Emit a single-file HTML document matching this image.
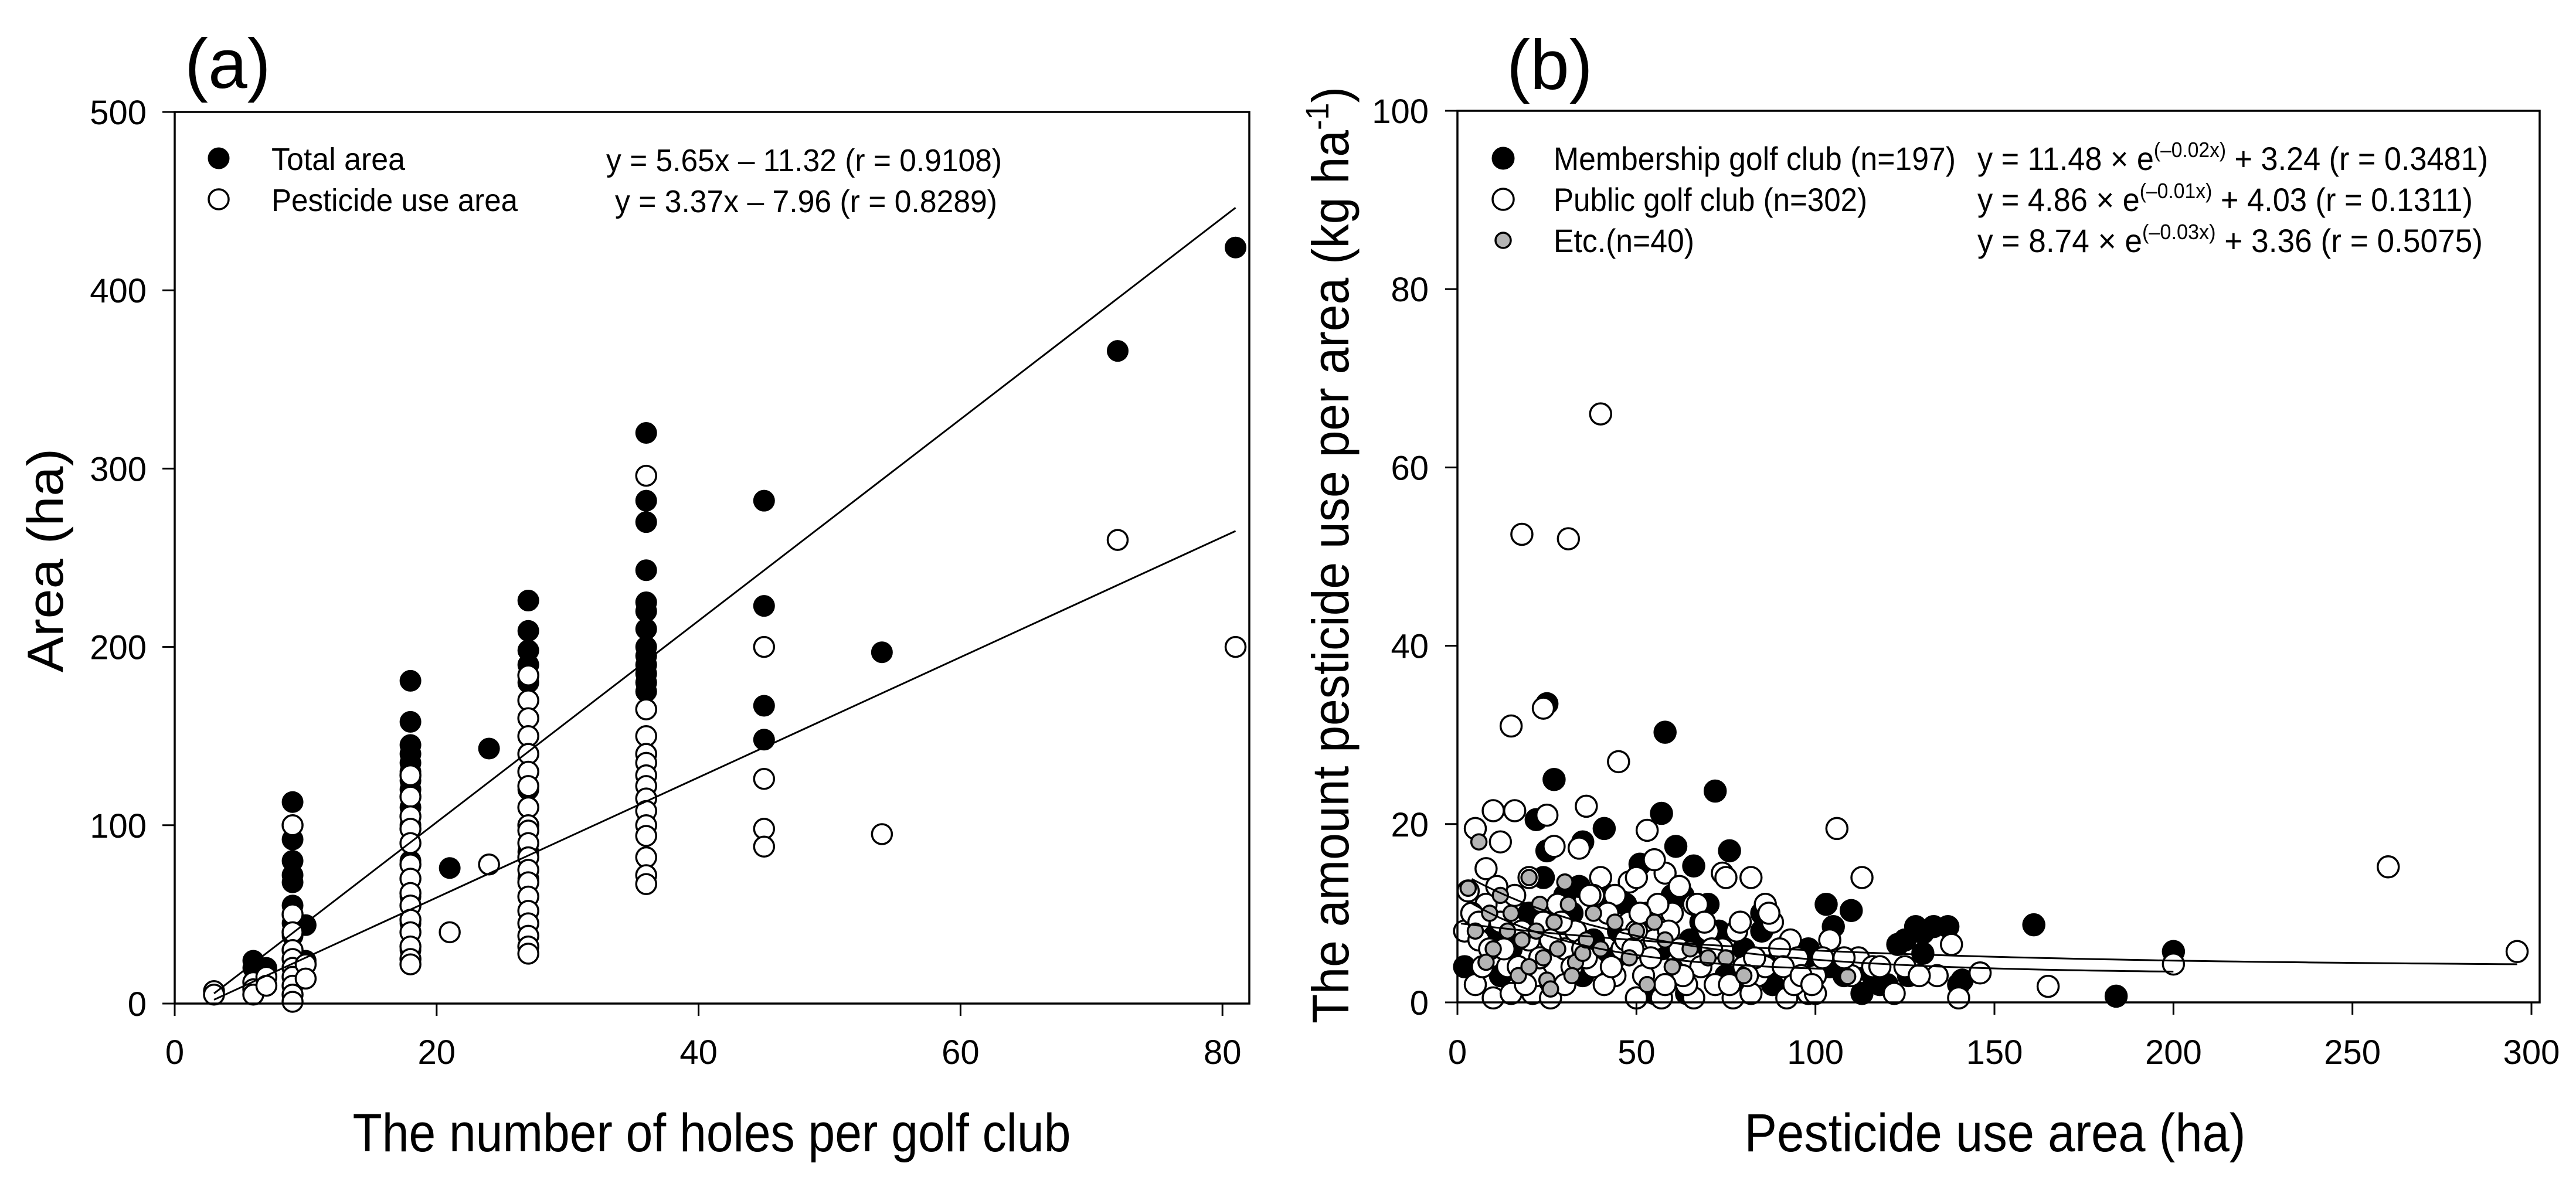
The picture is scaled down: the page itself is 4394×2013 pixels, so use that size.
<!DOCTYPE html>
<html><head><meta charset="utf-8"><style>
html,body{margin:0;padding:0;background:#fff;}
svg{display:block;font-family:"Liberation Sans",Arial,sans-serif;}
</style></head><body>
<svg id="fig" width="4394" height="2013" viewBox="0 0 4394 2013" xmlns="http://www.w3.org/2000/svg">
<rect width="4394" height="2013" fill="#fff"/>
<g id="pa"></g>
<g id="pb"></g>
</svg>
<script>
// ---------- Panel (a) data ----------
const aTotalX = [3,6,6,7,9,9,9,9,9,9,9,9,9,9,9,10,10,18,18,18,18,18,18,18,18,18,18,18,18,18,18,18,18,21,24,27,27,27,27,27,27,27,27,27,27,27,27,27,27,27,36,36,36,36,36,36,36,36,36,36,36,36,36,45,45,45,45,54,72,81];
const aTotalY = [6,24,20,20,113,92,80,72,68,55,45,38,30,25,20,44,24,181,158,145,140,135,130,125,120,110,100,90,80,70,60,45,30,76,143,226,209,198,190,180,170,160,150,140,130,120,110,100,85,70,320,282,270,243,225,220,210,200,195,190,185,180,175,282,223,167,148,197,366,424];
const aPestX = [3,3,6,6,6,7,7,9,9,9,9,9,9,9,9,9,9,10,10,18,18,18,18,18,18,18,18,18,18,18,18,18,18,21,24,27,27,27,27,27,27,27,27,27,27,27,27,27,27,27,27,27,27,27,27,36,36,36,36,36,36,36,36,36,36,36,36,36,36,45,45,45,45,54,72,81];
const aPestY = [7,5,12,8,5,15,10,100,50,40,30,25,20,15,10,5,1,22,14,128,116,105,98,90,78,70,62,55,47,40,32,25,22,40,78,184,170,160,150,140,130,122,110,100,97,90,82,75,68,60,52,45,38,32,28,296,165,150,140,135,128,122,115,108,100,94,82,72,67,200,126,98,88,95,260,200];
const aXTicks = [0,20,40,60,80];
const aYTicks = [0,100,200,300,400,500];
const aFitTotal = [5.65,-11.32];
const aFitPest = [3.37,-7.96];
const aFitRange = [3,81];

// ---------- Panel (b) data ----------
const bMemX = [25,27,58,72,22,41,57,76,61,35,25,66,51,103,110,105,161,200,184,128,133,137,130,125,123,130,126,141,113,116,100,90,95,85,70,47,30,32,2,20,40,55,62,88,97,108,118,140,60,80,45,35,15,10,65,75,85,92,50,120,28,38,68,82,112,42,53,57,63,73,78,87,98,104,44,34,24,18,12,70,64];
const bMemY = [33.5,25,30.3,23.7,20.5,19.5,21.2,17,17.5,18,17,15.3,15.5,11,10.3,8.5,8.7,5.7,0.7,8.5,8.5,8.5,7.8,7,6.5,5.5,3,2.5,1,3,5,5,3,8,11,11,12,10,4,10,5,1,3,2,2,3,2,2,12,6,8,3,6,8,7,3,10,4,0.5,2,9,7,9,5,4,12,10,6,12,8,2,4,6,4,5,13,14,8,3,6,1];
const bPubX = [40,18,31,15,24,45,10,16,25,36,5,12,27,34,53,106,260,296,200,165,146,140,113,82,74,75,58,62,48,50,40,44,55,8,3,2,5,10,15,21,26,50,57,66,77,92,98,122,100,104,112,125,138,86,88,93,95,80,70,65,55,48,44,38,30,20,12,8,6,14,22,33,42,60,68,72,84,100,116,9,18,28,35,52,62,78,90,110,4,16,24,46,56,64,74,82,94,102,134,20,30,38,50,66,86,7,11,13,19,23,29,32,37,41,47,51,54,59,63,67,71,76,79,83,87,91,96,6,17,26,36,43,49,58,69,81,99,108,118,129];
const bPubY = [66,52.5,52,31,33,27,21.5,21.5,21,22,19.5,18,17.5,17.3,19.3,19.5,15.2,5.7,4.3,1.8,3.3,0.5,14,14,14.5,14,14.5,13,13.5,14,14,12,16,15,12.5,8,2,0.5,1,1,0.5,0.5,0.5,0.5,0.5,0.5,1,1,3,7,5,4,6.5,11,9,7,5,4,8,5,7,9,3,4,6,7,9,11,7,4,3,8,10,10,4,2,3,1,4,6,8,11,6,3,6,8,6,3,10,12,9,6,11,2,6,1,2,5,3,14,2,12,8,11,4,4,13,6,2,5,9,4,12,2,7,10,5,8,3,11,6,2,9,5,10,4,3,9,4,7,5,4,6,2,9,3,2,5,4,3];
const bEtcX = [3,6,20,8,10,15,18,22,24,27,30,31,33,35,12,17,25,26,40,50,53,55,58,70,75,109,14,28,36,44,20,9,23,32,38,48,60,65,80,5];
const bEtcY = [12.8,18,14,4.5,6,10,7,8,5,9,13.5,11,4.5,5.5,12,3,2.5,1.5,6,8,2,9,7,5,5,2.9,8,6,7,9,4,10,11,3,10,5,4,6,3,8];
const bXTicks = [0,50,100,150,200,250,300];
const bYTicks = [0,20,40,60,80,100];
const bFitMem = [11.48,-0.02,3.24];
const bFitPub = [4.86,-0.01,4.03];
const bFitEtc = [8.74,-0.03,3.36];
const bMemRange = [4,200];
const bPubRange = [1,296];
const bEtcRange = [3,110];

const NS = 'http://www.w3.org/2000/svg';
function mk(parent, tag, attrs, text){
  const e = document.createElementNS(NS, tag);
  for (const k in attrs) e.setAttribute(k, attrs[k]);
  if (text !== undefined) e.textContent = text;
  parent.appendChild(e);
  return e;
}
function scale(d0,d1,r0,r1){ return v => r0 + (v-d0)/(d1-d0)*(r1-r0); }

// ---------- Panel (a) ----------
(function(){
  const g = document.getElementById('pa');
  const L=298, R=2131, T=191, B=1712;
  const x = scale(0,82.05,L,R), y = scale(0,500,B,T);
  const pts = mk(g,'g',{});
  
  
  aTotalX.forEach((v,i)=>{
    const c = mk(pts,'circle',{cx:x(v),cy:y(aTotalY[i]),r:17,fill:'#000',stroke:'#000','stroke-width':3});
    
    
  });
  const pts2 = mk(g,'g',{});
  
  
  aPestX.forEach((v,i)=>{
    const c = mk(pts2,'circle',{cx:x(v),cy:y(aPestY[i]),r:17,fill:'#fff',stroke:'#000','stroke-width':3.5});
    
    
  });
  [[aFitTotal,'total-area-fit-line'],[aFitPest,'pesticide-area-fit-line']].forEach(([f,n])=>{
    const l = mk(g,'line',{x1:x(aFitRange[0]),y1:y(f[0]*aFitRange[0]+f[1]),x2:x(aFitRange[1]),y2:y(f[0]*aFitRange[1]+f[1]),stroke:'#000','stroke-width':3});
    
    
  });
  const fr = mk(g,'rect',{x:L,y:T,width:R-L,height:B-T,fill:'none',stroke:'#000','stroke-width':3.5});
  
  
  aXTicks.forEach(v=>{
    mk(g,'line',{x1:x(v),y1:B,x2:x(v),y2:B+21,stroke:'#000','stroke-width':3});
    const t = mk(g,'text',{x:x(v),y:1815,'font-size':58,'text-anchor':'middle'},String(v));
    
    
  });
  aYTicks.forEach(v=>{
    mk(g,'line',{x1:L-21,y1:y(v),x2:L,y2:y(v),stroke:'#000','stroke-width':3});
    const t = mk(g,'text',{x:250,y:y(v)+21,'font-size':58,'text-anchor':'end'},String(v));
    
    
  });
})();

// ---------- Panel (b) ----------
(function(){
  const g = document.getElementById('pb');
  const L=2486, R=4332, T=189, B=1710;
  const x = scale(0,300,L,4318), y = scale(0,100,B,T);
  const groups = [[bMemX,bMemY,'#000',18,'membership-points','membership-point'],
                  [bPubX,bPubY,'#fff',18,'public-points','public-point'],
                  [bEtcX,bEtcY,'#b4b4b4',13,'etc-points','etc-point']];
  groups.forEach(([xs,ys,fill,r,gn,pn])=>{
    const gg = mk(g,'g',{});
    
    
    xs.forEach((v,i)=>{
      if (ys[i] === undefined) return;
      const c = mk(gg,'circle',{cx:x(v),cy:y(ys[i]),r:r,fill:fill,stroke:'#000','stroke-width':3.5});
      
      
    });
  });
  [[bFitMem,bMemRange,'membership-fit-curve'],[bFitPub,bPubRange,'public-fit-curve'],[bFitEtc,bEtcRange,'etc-fit-curve']].forEach(([f,rg,n])=>{
    let d='';
    for(let k=0;k<=60;k++){
      const xv = rg[0]+(rg[1]-rg[0])*k/60;
      const yv = f[0]*Math.exp(f[1]*xv)+f[2];
      d += (k?'L':'M')+x(xv).toFixed(1)+','+y(yv).toFixed(1);
    }
    const p = mk(g,'path',{d:d,fill:'none',stroke:'#000','stroke-width':3});
    
    
  });
  const fr = mk(g,'rect',{x:L,y:T,width:R-L,height:B-T,fill:'none',stroke:'#000','stroke-width':3.5});
  
  
  bXTicks.forEach(v=>{
    mk(g,'line',{x1:x(v),y1:B,x2:x(v),y2:B+21,stroke:'#000','stroke-width':3});
    const t = mk(g,'text',{x:x(v),y:1815,'font-size':58,'text-anchor':'middle'},String(v));
    
    
  });
  bYTicks.forEach(v=>{
    mk(g,'line',{x1:L-21,y1:y(v),x2:L,y2:y(v),stroke:'#000','stroke-width':3});
    const t = mk(g,'text',{x:2437,y:y(v)+21,'font-size':58,'text-anchor':'end'},String(v));
    
    
  });
})();
</script>
<svg style="position:absolute;left:0;top:0" width="4394" height="2013" viewBox="0 0 4394 2013" xmlns="http://www.w3.org/2000/svg" font-family="Liberation Sans, Arial, sans-serif">
  <text x="315" y="150" font-size="120">(a)</text>
  <text x="2570" y="152" font-size="120">(b)</text>
  <g>
    <circle cx="373" cy="270" r="17" fill="#000" stroke="#000" stroke-width="3"/>
    <text x="463" y="290" font-size="54" textLength="228" lengthAdjust="spacingAndGlyphs">Total area</text>
    <circle cx="373" cy="340" r="17" fill="#fff" stroke="#000" stroke-width="3.5"/>
    <text x="463" y="360" font-size="54" textLength="420" lengthAdjust="spacingAndGlyphs">Pesticide use area</text>
    <text x="1034" y="292" font-size="54" textLength="675" lengthAdjust="spacingAndGlyphs">y = 5.65x – 11.32 (r = 0.9108)</text>
    <text x="1049" y="362" font-size="54" textLength="652" lengthAdjust="spacingAndGlyphs">y = 3.37x – 7.96 (r = 0.8289)</text>
  </g>
  <g>
    <circle cx="2564" cy="270" r="18" fill="#000" stroke="#000" stroke-width="3"/>
    <text x="2650" y="290" font-size="56" textLength="686" lengthAdjust="spacingAndGlyphs">Membership golf club (n=197)</text>
    <circle cx="2564" cy="340" r="18" fill="#fff" stroke="#000" stroke-width="3.5"/>
    <text x="2650" y="360" font-size="56" textLength="535" lengthAdjust="spacingAndGlyphs">Public golf club (n=302)</text>
    <circle cx="2564" cy="410" r="13" fill="#b4b4b4" stroke="#000" stroke-width="3.5"/>
    <text x="2650" y="430" font-size="56" textLength="240" lengthAdjust="spacingAndGlyphs">Etc.(n=40)</text>
    <text x="3373" y="290" font-size="56" textLength="871" lengthAdjust="spacingAndGlyphs">y = 11.48 × e<tspan font-size="36" dy="-22">(–0.02x)</tspan><tspan dy="22"> + 3.24 (r = 0.3481)</tspan></text>
    <text x="3373" y="360" font-size="56" textLength="845" lengthAdjust="spacingAndGlyphs">y = 4.86 × e<tspan font-size="36" dy="-22">(–0.01x)</tspan><tspan dy="22"> + 4.03 (r = 0.1311)</tspan></text>
    <text x="3373" y="430" font-size="56" textLength="862" lengthAdjust="spacingAndGlyphs">y = 8.74 ×  e<tspan font-size="36" dy="-22">(–0.03x)</tspan><tspan dy="22"> + 3.36 (r = 0.5075)</tspan></text>
  </g>
  <text x="1214" y="1964" font-size="92" text-anchor="middle" textLength="1225" lengthAdjust="spacingAndGlyphs">The number of holes per golf club</text>
  <text transform="translate(107,956) rotate(-90)" font-size="86" text-anchor="middle" textLength="382" lengthAdjust="spacingAndGlyphs">Area (ha)</text>
  <text x="3403" y="1964" font-size="92" text-anchor="middle" textLength="855" lengthAdjust="spacingAndGlyphs">Pesticide use area (ha)</text>
  <text transform="translate(2300,947) rotate(-90)" font-size="88" text-anchor="middle" textLength="1598" lengthAdjust="spacingAndGlyphs">The amount pesticide use per area (kg ha<tspan font-size="56" dy="-34">-1</tspan><tspan dy="34">)</tspan></text>
</svg>
</body></html>
